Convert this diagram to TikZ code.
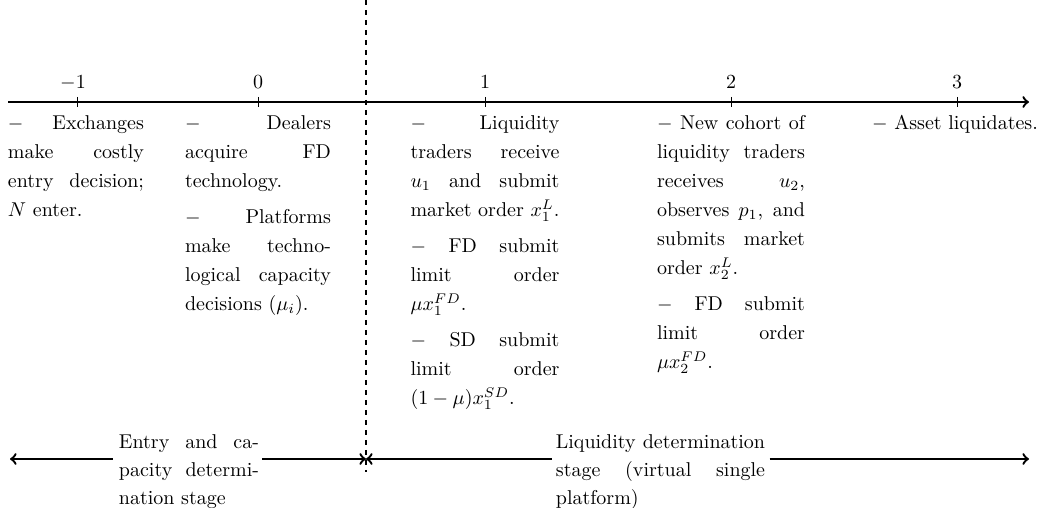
\documentclass[tikz,border=0pt]{standalone}
\usepackage{tikz}
\begin{document}
\begin{tikzpicture}[x=0.5pt,y=-0.5pt,
  axis/.style={line width=1.15pt},
  tickmark/.style={line width=0.4pt},
  ticklabel/.style={inner sep=0pt, anchor=base},
  eventbox/.style={anchor=base, text width=73pt, align=justify, inner sep=0pt,
                   font=\fontsize{10}{14.5}\selectfont},
  stagebox/.style={anchor=base, align=justify, inner sep=0pt,
                   font=\fontsize{10}{14}\selectfont},
  stagearrow/.style={->, line width=1.15pt},
  divider/.style={line width=0.9pt, dash pattern=on 2.5pt off 2.5pt}]
\useasboundingbox (0,0) rectangle (1041,508);

% time line
\coordinate (axstart) at (8,102);
\coordinate (axend) at (1029,102);
\draw[axis,->] (axstart) -- (axend);

\foreach \n/\x/\lx/\lab in {m1/77/73/$-1$, z/258/258/$0$, o/485/485/$1$, t/731/731/$2$, th/957/957/$3$}{
  \coordinate (tt\n) at (\x,97);
  \coordinate (tb\n) at (\x,107);
  \draw[tickmark] (tt\n) -- (tb\n);
  \node[ticklabel] (lab\n) at (\lx,89) {\lab};
}

% divider
\coordinate (divtop) at (366,0);
\coordinate (divbot) at (366,472);
\draw[divider] (divtop) -- (divbot);

% events
\node[eventbox, text width=68pt] (evm1) at (76,130) {%
$-$ Exchanges\linebreak make costly\linebreak entry decision;\linebreak $N$ enter.};

\node[eventbox] (evz) at (258,130) {%
$-$ Dealers\linebreak acquire FD\linebreak technology.\par\vspace{3.5pt}%
$-$ Platforms\linebreak make techno-\linebreak logical capacity\linebreak decisions $(\mu_i)$.};

\node[eventbox, text width=74.5pt] (evo) at (485,130) {%
$-$ Liquidity\linebreak traders receive\linebreak $u_1$ and submit\linebreak market order $x_1^L$.\par\vspace{3.5pt}%
$-$ FD submit\linebreak limit order\linebreak $\mu x_1^{FD}$.\par\vspace{3.5pt}%
$-$ SD submit\linebreak limit order\linebreak $(1-\mu)x_1^{SD}$.};

\node[eventbox, text width=74pt] (evt) at (731,130) {%
$-$ New cohort of\linebreak liquidity traders\linebreak receives $u_2$,\linebreak observes $p_1$, and\linebreak submits market\linebreak order $x_2^L$.\par\vspace{3.5pt}%
$-$ FD submit\linebreak limit order\linebreak $\mu x_2^{FD}$.};

\node[anchor=base, inner sep=0pt] (evth) at (955,130) {$-$ Asset liquidates.};

% stages
\coordinate (bleft) at (10,459);
\coordinate (bmid) at (366,459);
\coordinate (bright) at (1029,459);

\node[stagebox, text width=70pt] (stA) at (189,449) {Entry and ca-\linebreak pacity determi-\linebreak nation stage};
\node[stagebox, text width=104.6pt] (stB) at (660.5,449) {Liquidity determination\linebreak stage (virtual single\linebreak platform)};

\draw[stagearrow] ([xshift=-3pt]stA.west |- bmid) -- (bleft);
\draw[stagearrow] ([xshift=1.5pt]stA.east |- bmid) -- (bmid);
\draw[stagearrow] ([xshift=-2pt]stB.west |- bmid) -- (bmid);
\draw[stagearrow] ([xshift=2pt]stB.east |- bmid) -- (bright);
\end{tikzpicture}
\end{document}
